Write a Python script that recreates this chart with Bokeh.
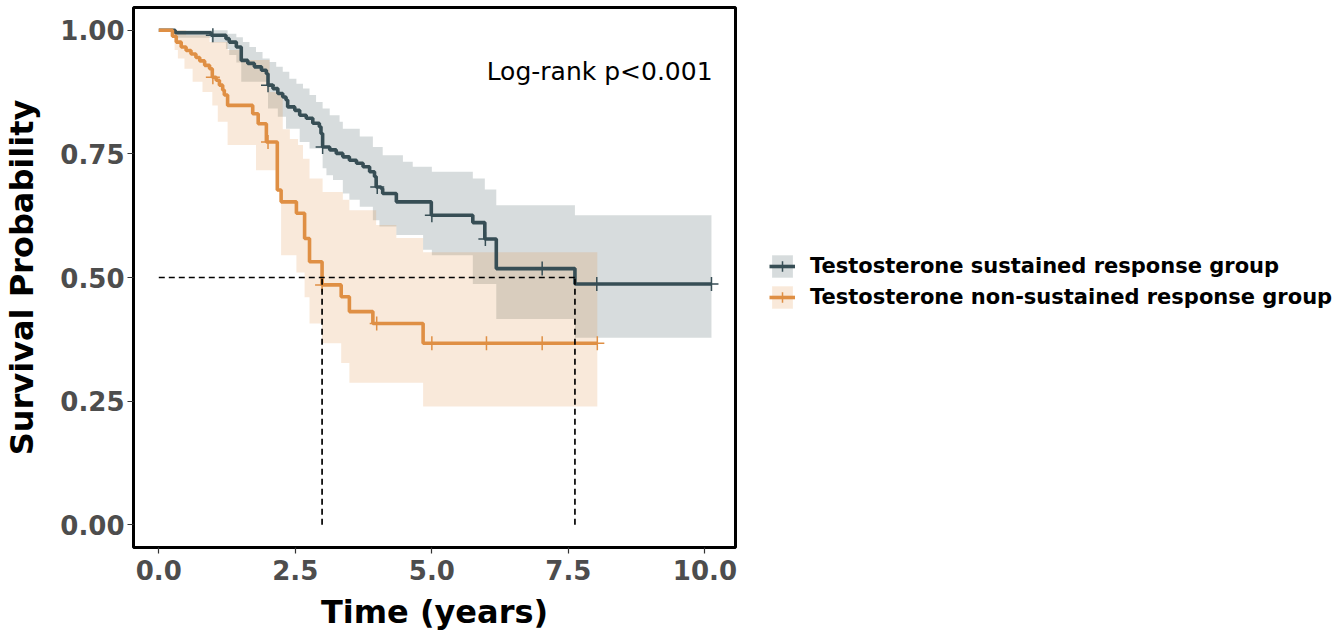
import numpy as np
from bokeh.plotting import figure
from bokeh.models import Range1d, FixedTicker, Legend, LegendItem, Label
from bokeh.embed import file_html
from bokeh.resources import INLINE

# ---------------- data ----------------
sus_label = "Testosterone sustained response group"
non_label = "Testosterone non-sustained response group"

# Kaplan-Meier step curve: sustained response group
sus_t = [0, 0.30, 0.96, 1.23, 1.29, 1.42, 1.51, 1.63, 1.75, 1.88, 1.97, 2.00, 2.09, 2.18,
         2.27, 2.33, 2.36, 2.49, 2.58, 2.70, 2.82, 2.94, 2.97, 3.00, 3.13, 3.25, 3.37, 3.49,
         3.62, 3.74, 3.86, 3.95, 3.98, 4.07, 4.10, 4.35, 4.99, 5.75, 5.97, 6.18, 7.62, 10.12]
sus_s = [1.0, 0.995, 0.990, 0.983, 0.976, 0.966, 0.939, 0.933, 0.926, 0.919, 0.912, 0.889,
         0.882, 0.872, 0.865, 0.859, 0.845, 0.838, 0.828, 0.822, 0.812, 0.805, 0.791, 0.764,
         0.758, 0.751, 0.744, 0.737, 0.731, 0.724, 0.714, 0.704, 0.683, 0.680, 0.670, 0.653,
         0.626, 0.611, 0.578, 0.518, 0.487, 0.487]
sus_censor = [0.99, 2.0, 3.0, 4.0, 5.0, 5.98, 7.02, 8.02, 10.12]
sus_lo_t = [0, 0.30, 0.96, 1.23, 1.29, 1.42, 1.51, 2.00, 2.18, 2.33, 2.58, 2.76, 3.00, 3.07,
            3.19, 3.37, 3.49, 3.68, 3.92, 4.04, 4.35, 4.84, 5.00, 5.75, 6.18, 7.62, 10.12]
sus_lo = [1.0, 0.985, 0.975, 0.962, 0.950, 0.935, 0.896, 0.842, 0.825, 0.801, 0.774, 0.761,
          0.721, 0.707, 0.697, 0.670, 0.657, 0.643, 0.616, 0.603, 0.586, 0.556, 0.545, 0.487,
          0.416, 0.378, 0.378]
sus_hi_t = [0, 1.26, 1.42, 1.54, 1.66, 1.78, 1.90, 2.03, 2.15, 2.27, 2.39, 2.52, 2.64, 2.76,
            2.88, 3.00, 3.13, 3.31, 3.37, 3.68, 3.92, 4.10, 4.47, 4.65, 5.00, 5.75, 5.97, 6.18,
            7.62, 10.12]
sus_hi = [1.0, 0.993, 0.986, 0.976, 0.966, 0.956, 0.943, 0.936, 0.926, 0.916, 0.902, 0.892,
          0.882, 0.869, 0.855, 0.842, 0.828, 0.815, 0.801, 0.785, 0.764, 0.747, 0.734, 0.724,
          0.714, 0.700, 0.678, 0.646, 0.626, 0.626]

# Kaplan-Meier step curve: non-sustained response group
non_t = [0, 0.25, 0.32, 0.41, 0.50, 0.59, 0.68, 0.75, 0.84, 0.93, 0.98, 1.05, 1.11, 1.17,
         1.20, 1.26, 1.72, 1.82, 1.97, 2.17, 2.24, 2.52, 2.67, 2.76, 2.99, 3.34, 3.49, 3.92,
         4.84, 8.03]
non_s = [1.0, 0.988, 0.976, 0.966, 0.959, 0.952, 0.945, 0.938, 0.929, 0.922, 0.905, 0.899,
         0.889, 0.879, 0.869, 0.848, 0.831, 0.811, 0.774, 0.677, 0.653, 0.630, 0.579, 0.532,
         0.485, 0.461, 0.431, 0.407, 0.367, 0.367]
non_censor = [0.99, 2.0, 2.99, 3.99, 5.0, 6.0, 7.02, 8.03]
non_lo_t = [0, 0.29, 0.35, 0.47, 0.62, 0.80, 0.98, 1.08, 1.26, 1.78, 2.17, 2.24, 2.52, 2.67,
            2.76, 2.99, 3.34, 3.49, 4.84, 8.03]
non_lo = [1.0, 0.960, 0.943, 0.922, 0.896, 0.875, 0.848, 0.815, 0.768, 0.717, 0.673, 0.545,
          0.510, 0.460, 0.407, 0.367, 0.327, 0.287, 0.239, 0.239]
non_hi_t = [0, 0.50, 0.93, 1.26, 1.48, 2.03, 2.27, 2.40, 2.55, 2.64, 2.76, 3.00, 3.37, 3.49,
            3.98, 4.35, 4.84, 8.03]
non_hi = [1.0, 0.990, 0.976, 0.960, 0.940, 0.875, 0.800, 0.780, 0.768, 0.740, 0.700, 0.673,
          0.657, 0.636, 0.606, 0.580, 0.551, 0.551]

x_ticks = [0, 2.5, 5, 7.5, 10]
x_tick_labels = ["0.0", "2.5", "5.0", "7.5", "10.0"]
y_ticks = [0, 0.25, 0.5, 0.75, 1.0]
y_tick_labels = ["0.00", "0.25", "0.50", "0.75", "1.00"]
annotation = "Log-rank p<0.001"

SUS_COLOR = "#374E55"
NON_COLOR = "#DF8F44"
FONT = "DejaVu Sans"


def step_at(ts, vs, q):
    idx = np.searchsorted(np.asarray(ts), np.asarray(q), side="right") - 1
    return np.asarray(vs)[idx]


def median_time(ts, vs):
    vs = np.asarray(vs)
    return float(np.asarray(ts)[np.argmax(vs <= 0.5)])


p = figure(frame_width=602, frame_height=540,
           x_range=Range1d(-0.463, 10.56), y_range=Range1d(-0.046, 1.046),
           output_backend="svg", toolbar_location=None,
           min_border_left=128, min_border_top=7, min_border_bottom=0,
           min_border_right=597)
p.background_fill_color = "white"
p.border_fill_color = "white"
p.outline_line_color = "black"
p.outline_line_width = 3
p.xgrid.visible = False
p.ygrid.visible = False

items = []
for lab, col, t, s, c, lt, lo, ht, hi in [
        (sus_label, SUS_COLOR, sus_t, sus_s, sus_censor, sus_lo_t, sus_lo, sus_hi_t, sus_hi),
        (non_label, NON_COLOR, non_t, non_s, non_censor, non_lo_t, non_lo, non_hi_t, non_hi)]:
    grid = np.unique(np.concatenate([lt, ht]))
    band = p.varea_step(x=grid, y1=step_at(lt, lo, grid), y2=step_at(ht, hi, grid),
                        step_mode="after", fill_color=col, fill_alpha=0.2)
    items.append((lab, col, t, s, c, band))

line_rs = []
for lab, col, t, s, c, band in items:
    ln = p.step(x=t, y=s, mode="after", line_color=col, line_width=3.6)
    cr = p.scatter(x=c, y=step_at(t, s, c), marker="cross", size=14,
                   line_color=col, line_width=1.5)
    line_rs.append(LegendItem(label=lab, renderers=[band, ln, cr]))

# median survival guide lines
m_sus = median_time(sus_t, sus_s)
m_non = median_time(non_t, non_s)
p.segment(x0=[0], y0=[0.5], x1=[max(m_sus, m_non)], y1=[0.5],
          line_color="black", line_width=1.7, line_dash="6 4")
p.segment(x0=[m_non, m_sus], y0=[0, 0], x1=[m_non, m_sus], y1=[0.5, 0.5],
          line_color="black", line_width=1.7, line_dash="6 4")

p.add_layout(Label(x=10.14, y=0.917, text=annotation, text_align="right",
                   text_baseline="middle", text_font=FONT, text_font_size="25px",
                   text_color="black"))

for ax, ticks, labels in [(p.xaxis, x_ticks, x_tick_labels), (p.yaxis, y_ticks, y_tick_labels)]:
    ax.ticker = FixedTicker(ticks=ticks)
    ax.major_label_overrides = {t: l for t, l in zip(ticks, labels)}
    ax.axis_line_color = None
    ax.major_tick_line_color = "#333333"
    ax.major_tick_line_width = 1.2
    ax.major_tick_out = 6
    ax.major_tick_in = 0
    ax.minor_tick_line_color = None
    ax.major_label_text_font = FONT
    ax.major_label_text_font_style = "bold"
    ax.major_label_text_font_size = "26px"
    ax.major_label_text_color = "#4D4D4D"
    ax.axis_label_text_font = FONT
    ax.axis_label_text_font_style = "bold"
    ax.axis_label_text_font_size = "32px"
    ax.axis_label_text_color = "black"

p.xaxis.axis_label = "Time (years)"
p.yaxis.axis_label = "Survival Probability"
p.xaxis.major_label_standoff = 6
p.yaxis.major_label_standoff = 3
p.xaxis.axis_label_standoff = 10
p.yaxis.axis_label_standoff = 16

legend = Legend(items=line_rs, location=(34, 236), margin=0, padding=0, spacing=3,
                glyph_width=26, glyph_height=28, label_standoff=15,
                label_text_font=FONT, label_text_font_style="bold",
                label_text_font_size="21px", label_text_color="black",
                border_line_color=None, background_fill_alpha=0)
p.add_layout(legend, "right")

open("out.html", "w").write(file_html(p, INLINE))
